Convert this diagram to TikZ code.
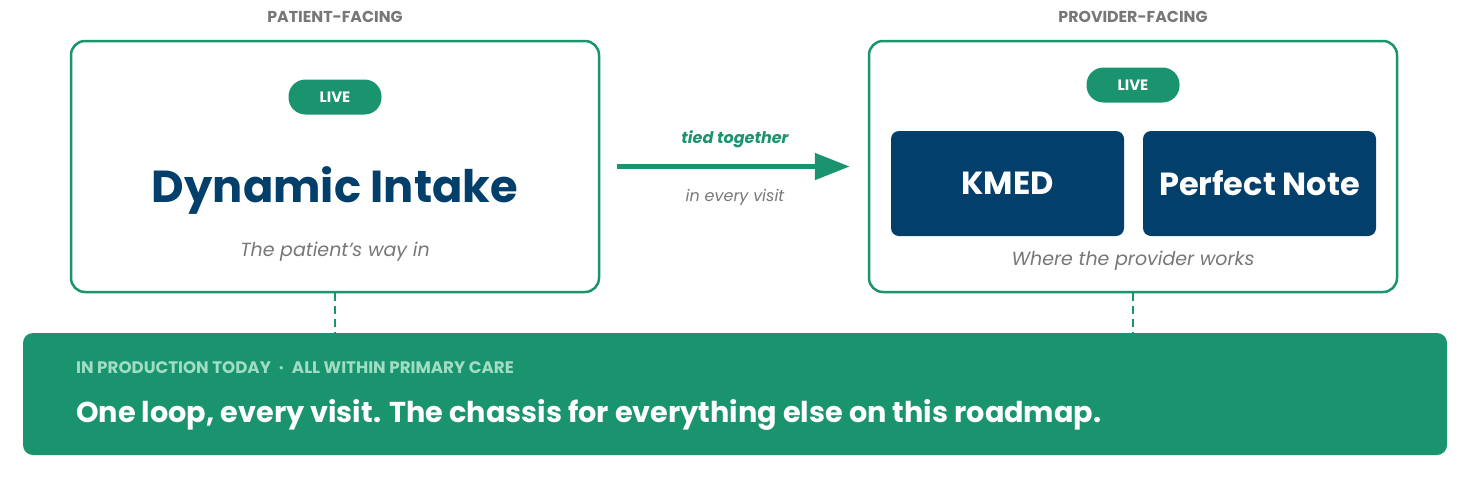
\documentclass[tikz,border=0pt]{standalone}
\usepackage{fontspec}
\setmainfont{Poppins}
\usetikzlibrary{arrows.meta, positioning, calc}
\definecolor{loopgreen}{RGB}{26, 148, 110}
\definecolor{navy}{RGB}{3, 63, 107}
\definecolor{inkgray}{RGB}{119, 119, 119}
\definecolor{mint}{RGB}{160, 221, 196}

\begin{document}
\begin{tikzpicture}[x=1pt, y=1pt,
    side/.style   = {font=\fontsize{15.8}{18}\selectfont\bfseries, text=inkgray},
    panel/.style  = {draw=loopgreen, line width=2.5pt, rounded corners=14pt, fill=white,
                     minimum width=528pt, minimum height=251pt, inner sep=0pt},
    pill/.style   = {fill=loopgreen, rounded corners=17pt, minimum width=93pt, minimum height=35pt,
                     inner sep=0pt, text=white, font=\fontsize{15}{17}\selectfont\bfseries},
    prod/.style   = {fill=navy, rounded corners=8pt, minimum width=233pt, minimum height=105pt,
                     inner sep=0pt, text=white, font=\fontsize{32}{38}\selectfont\bfseries},
    sub/.style    = {font=\fontsize{19}{23}\selectfont\itshape, text=inkgray},
    note/.style   = {font=\fontsize{16}{19}\selectfont\itshape, text=inkgray},
    arr/.style    = {-{Triangle[length=35pt, width=26pt]}, color=loopgreen, line width=5pt,
                     shorten <=17pt, shorten >=18pt},
    tie/.style    = {draw=loopgreen, line width=2pt, dash pattern=on 8pt off 5pt},
  ]
    \useasboundingbox (0,0) rectangle (1482,-491);
    \def\lx{335}
    \def\rx{1133}

    % ── Patient side ──
    \node[side]  (lhdr)  at (\lx, -17)      {PATIENT-FACING};
    \node[panel] (lbox)  at (\lx, -166.5)   {};
    \node[pill]  (llive) at (\lx, -97)      {LIVE};
    \node[font=\fontsize{44.8}{52}\selectfont\bfseries, text=navy] (intake) at (\lx, -190) {Dynamic Intake};
    \node[sub]   (lsub)  at (\lx, -252)     {The patient's way in};

    % ── Provider side ──
    \node[side]  (rhdr)  at (\rx, -17)      {PROVIDER-FACING};
    \node[panel] (rbox)  at (\rx, -166.5)   {};
    \node[pill]  (rlive) at (\rx, -85)      {LIVE};
    \node[prod]  (kmed)  at (1007.5, -183.5) {KMED};
    \node[prod]  (pnote) at (1259.5, -183.5) {Perfect Note};
    \node[sub]   (rsub)  at (\rx, -261)     {Where the provider works};

    % ── Link ──
    \draw[arr] (lbox.east) -- (rbox.west);
    \node[note, font=\fontsize{16}{19}\selectfont\bfseries\itshape, text=loopgreen] (tied) at (735, -139) {tied together};
    \node[note] (every) at (735, -197) {in every visit};

    % ── Banner ──
    \node[fill=loopgreen, rounded corners=10pt, minimum width=1424pt, minimum height=122pt, inner sep=0pt]
        (banner) at (735, -394) {};
    \node[anchor=west, inner sep=0pt, text=mint, font=\fontsize{16.7}{19}\selectfont\bfseries] (tag)
        at (76, -368) {IN PRODUCTION TODAY\hspace{8pt}·\hspace{8pt}ALL WITHIN PRIMARY CARE};
    \node[anchor=west, inner sep=0pt, text=white, font=\fontsize{28.7}{34}\selectfont\bfseries] (claim)
        at (76, -415) {One loop, every visit. The chassis for everything else on this roadmap.};

    \draw[tie] (lbox.south) -- (lbox.south |- banner.north);
    \draw[tie] (rbox.south) -- (rbox.south |- banner.north);

\end{tikzpicture}
\end{document}
